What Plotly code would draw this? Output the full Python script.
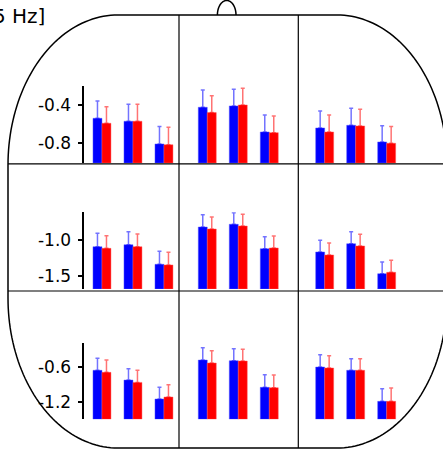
import numpy as np
import plotly.graph_objects as go

W, H = 443, 450

# ---- data (rows: top, middle, bottom; cols: left, middle, right) ----
groups = [0, 1, 2]
blue_vals = [
    [[-0.539, -0.570, -0.807], [-0.424, -0.410, -0.682], [-0.640, -0.612, -0.786]],
    [[-1.094, -1.066, -1.341], [-0.818, -0.780, -1.122], [-1.168, -1.052, -1.472]],
    [[-0.651, -0.818, -1.143], [-0.475, -0.486, -0.943], [-0.595, -0.651, -1.183]],
]
blue_err = [
    [[0.181, 0.177, 0.181], [0.181, 0.174, 0.178], [0.177, 0.177, 0.170]],
    [[0.188, 0.183, 0.182], [0.173, 0.163, 0.169], [0.163, 0.169, 0.164]],
    [[0.205, 0.195, 0.200], [0.212, 0.206, 0.216], [0.212, 0.199, 0.217]],
]
red_vals = [
    [[-0.591, -0.570, -0.815], [-0.480, -0.400, -0.689], [-0.682, -0.619, -0.800]],
    [[-1.117, -1.094, -1.350], [-0.846, -0.804, -1.112], [-1.210, -1.084, -1.453]],
    [[-0.686, -0.858, -1.109], [-0.526, -0.492, -0.949], [-0.612, -0.651, -1.183]],
]
red_err = [
    [[0.173, 0.177, 0.182], [0.177, 0.174, 0.174], [0.178, 0.174, 0.174]],
    [[0.178, 0.178, 0.177], [0.168, 0.164, 0.168], [0.168, 0.164, 0.168]],
    [[0.211, 0.207, 0.211], [0.211, 0.200, 0.217], [0.211, 0.199, 0.228]],
]
row_ylim = [[-1.006, -0.202], [-1.687, -0.612], [-1.491, -0.188]]
row_tickvals = [[-0.4, -0.8], [-1.0, -1.5], [-0.6, -1.2]]
row_ticktext = [["-0.4", "-0.8"], ["-1.0", "-1.5"], ["-0.6", "-1.2"]]
title_text = "5 Hz]"

# ---- layout geometry (pixels) ----
col_left_px = [84.3, 189.6, 307.0]
xr = [-0.57, 2.55]
unit_px = 31.0
col_w_px = (xr[1] - xr[0]) * unit_px
row_px = [(86.0, 163.0), (212.3, 289.0), (343.3, 419.3)]
bar_w = 0.29
off = 0.145

def px_x(x):
    return x / W

def px_y(y):
    return 1 - y / H

fig = go.Figure()
layout = dict(
    width=W, height=H, margin=dict(l=0, r=0, t=0, b=0),
    paper_bgcolor="white", plot_bgcolor="rgba(0,0,0,0)",
    showlegend=False, barmode="overlay",
    font=dict(family="DejaVu Sans", color="black", size=17),
)

for r in range(3):
    for c in range(3):
        k = r * 3 + c + 1
        xa = "x" if k == 1 else f"x{k}"
        ya = "y" if k == 1 else f"y{k}"
        base = row_ylim[r][0]
        for vals, errs, col, lc, ec, dx in [
            (blue_vals[r][c], blue_err[r][c], "#0000ff", "rgba(90,90,255,0.45)", "rgba(0,0,255,0.55)", -off),
            (red_vals[r][c], red_err[r][c], "#ff0000", "rgba(255,90,90,0.45)", "rgba(255,0,0,0.55)", off),
        ]:
            fig.add_trace(go.Bar(
                x=[g + dx for g in groups],
                y=[v - base for v in vals],
                base=base,
                width=bar_w,
                marker=dict(color=col, line=dict(color=lc, width=1)),
                error_y=dict(type="data", symmetric=False, array=errs,
                             arrayminus=[0] * len(errs), color=ec,
                             thickness=1.5, width=2),
                xaxis=xa, yaxis=ya,
            ))
        x0 = col_left_px[c]
        xd = [px_x(x0), px_x(x0 + col_w_px)]
        yd = [px_y(row_px[r][1]), px_y(row_px[r][0])]
        xkey = "xaxis" if k == 1 else f"xaxis{k}"
        ykey = "yaxis" if k == 1 else f"yaxis{k}"
        layout[xkey] = dict(domain=xd, range=xr, visible=False, anchor=ya, fixedrange=True)
        ydict = dict(domain=yd, range=row_ylim[r], anchor=xa, showgrid=False,
                     zeroline=False, fixedrange=True)
        if c == 0:
            ydict.update(showline=True, linecolor="black", linewidth=1.5,
                         ticks="outside", ticklen=5, tickwidth=1.5, tickcolor="black",
                         tickmode="array", tickvals=row_tickvals[r],
                         ticktext=row_ticktext[r], tickfont=dict(size=17),
                         ticklabelstandoff=3)
        else:
            ydict.update(visible=False)
        layout[ykey] = ydict

fig.update_layout(**layout)

# ---- head outline: rounded rectangle with elliptical corners + nose ----
hx0, hx1, hy0, hy1 = 8.0, 447.0, 15.0, 448.0
rx, ry = 110.0, 150.0
pts = []
def arc(cx, cy, a0, a1):
    t = np.linspace(a0, a1, 48)
    return [(cx + rx * np.cos(tt), cy - ry * np.sin(tt)) for tt in t]
pts += arc(hx1 - rx, hy0 + ry, np.pi / 2, 0)
pts += arc(hx1 - rx, hy1 - ry, 0, -np.pi / 2)
pts += arc(hx0 + rx, hy1 - ry, -np.pi / 2, -np.pi)
pts += arc(hx0 + rx, hy0 + ry, np.pi, np.pi / 2)
path = "M " + " L ".join(f"{px_x(x):.5f},{px_y(y):.5f}" for x, y in pts) + " Z"
shapes = [dict(type="path", path=path, xref="paper", yref="paper",
               line=dict(color="black", width=1.5), layer="below")]

ncx, nrx, nry = 226.7, 9.3, 14.5
t = np.linspace(np.pi, 0, 40)
npts = [(ncx + nrx * np.cos(tt), hy0 - nry * np.sin(tt)) for tt in t]
npath = "M " + " L ".join(f"{px_x(x):.5f},{px_y(y):.5f}" for x, y in npts)
shapes.append(dict(type="path", path=npath, xref="paper", yref="paper",
                   line=dict(color="black", width=1.5), layer="below"))

# grid separators
for xv in [179.0, 298.3]:
    shapes.append(dict(type="line", xref="paper", yref="paper",
                       x0=px_x(xv), x1=px_x(xv), y0=px_y(hy0), y1=px_y(hy1),
                       line=dict(color="black", width=1.2), layer="below"))
for yv in [163.8, 291.0]:
    shapes.append(dict(type="line", xref="paper", yref="paper",
                       x0=px_x(hx0), x1=px_x(hx1), y0=px_y(yv), y1=px_y(yv),
                       line=dict(color="black", width=1.2), layer="below"))

fig.update_layout(shapes=shapes)
fig.add_annotation(text=title_text, xref="paper", yref="paper",
                   x=px_x(47), y=px_y(16), xanchor="right", yanchor="middle",
                   showarrow=False, font=dict(size=20, family="DejaVu Sans"))

fig.write_html("out.html", config={"displayModeBar": False},
               post_script="document.body.style.margin='0';document.body.style.overflow='hidden';")
